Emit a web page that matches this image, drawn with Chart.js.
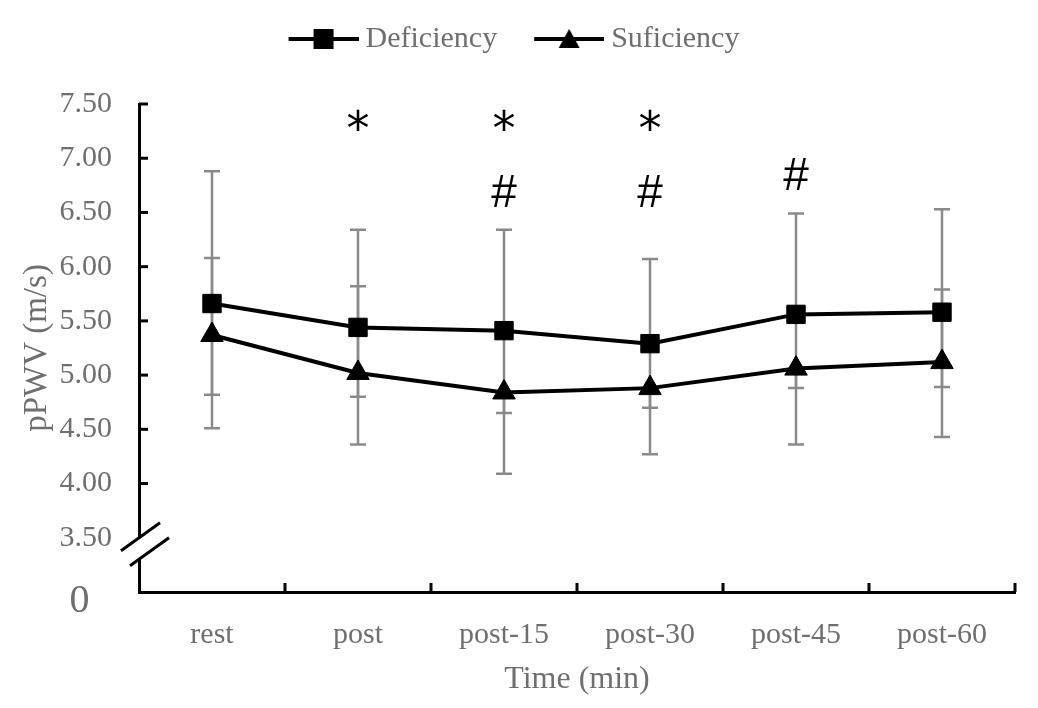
<!DOCTYPE html>
<html>
<head>
<meta charset="utf-8">
<script src="https://cdn.jsdelivr.net/npm/chart.js@4.4.0/dist/chart.umd.min.js"></script>
<style>
html,body{margin:0;padding:0;background:#fff;}
#wrap{width:1038px;height:708px;}
</style>
</head>
<body>
<div id="wrap"><canvas id="c" width="1038" height="708"></canvas></div>
<script>
// ---- data ----
const categories = ['rest', 'post', 'post-15', 'post-30', 'post-45', 'post-60'];
const deficiency = [5.66, 5.44, 5.41, 5.29, 5.56, 5.58];
const sufficiency = [5.37, 5.02, 4.84, 4.88, 5.06, 5.12];
const deficiencyHigh = [6.88, 6.34, 6.34, 6.07, 6.49, 6.53];
const deficiencyLow = [4.51, 4.36, 4.09, 4.27, 4.36, 4.43];
const sufficiencyHigh = [6.08, 5.82, null, null, null, 5.79];
const sufficiencyLow = [4.82, 4.80, 4.65, 4.70, 4.88, 4.89];
const yTickValues = [3.0, 3.5, 4.0, 4.5, 5.0, 5.5, 6.0, 6.5, 7.0, 7.5];
const starMarks = ['post', 'post-15', 'post-30'];
const hashMarks = ['post-15', 'post-30', 'post-45'];
const seriesNames = ['Deficiency', 'Suficiency'];

// ---- styles ----
const TEXT = '#6f6f6f';
const SERIF = '"Liberation Serif", "Times New Roman", serif';
const SANS = '"Liberation Sans", Arial, sans-serif';
const STAR_LEVEL = 7.35;
const HASH_LEVEL = {'post-15': 6.70, 'post-30': 6.70, 'post-45': 6.85};

function legendIcon(shape) {
  const c = document.createElement('canvas');
  c.width = 91; c.height = 30;
  const g = c.getContext('2d');
  g.strokeStyle = '#000'; g.lineWidth = 4;
  g.beginPath(); g.moveTo(21, 15); g.lineTo(91, 15); g.stroke();
  g.fillStyle = '#000';
  if (shape === 'rect') {
    g.fillRect(46, 5, 20, 20);
  } else {
    g.beginPath(); g.moveTo(56, 5); g.lineTo(66.5, 24); g.lineTo(45.5, 24); g.closePath(); g.fill();
  }
  return c;
}
const icons = [legendIcon('rect'), legendIcon('triangle')];

const errorBars = {
  id: 'errorBars',
  beforeDatasetsDraw(chart) {
    const {ctx, scales: {x, y}} = chart;
    ctx.save();
    ctx.strokeStyle = '#8a8a8a';
    ctx.lineWidth = 2.5;
    const sets = [[deficiencyHigh, deficiencyLow, deficiency], [sufficiencyHigh, sufficiencyLow, sufficiency]];
    const cap = 8;
    sets.forEach(([hi, lo, mid]) => {
      categories.forEach((c, i) => {
        const px = x.getPixelForValue(i);
        const top = y.getPixelForValue(hi[i] != null ? hi[i] : mid[i]);
        const bot = y.getPixelForValue(lo[i]);
        ctx.beginPath();
        ctx.moveTo(px, top); ctx.lineTo(px, bot);
        if (hi[i] != null) { ctx.moveTo(px - cap, top); ctx.lineTo(px + cap, top); }
        ctx.moveTo(px - cap, bot); ctx.lineTo(px + cap, bot);
        ctx.stroke();
      });
    });
    ctx.restore();
  }
};

const decor = {
  id: 'decor',
  afterDraw(chart) {
    const {ctx, scales: {x, y}, chartArea: a} = chart;
    ctx.save();
    ctx.strokeStyle = '#000';
    ctx.lineWidth = 3;
    // inner y ticks
    y.ticks.forEach(t => {
      if (t.value >= 4) {
        const py = y.getPixelForValue(t.value);
        ctx.beginPath(); ctx.moveTo(a.left, py); ctx.lineTo(a.left + 9, py); ctx.stroke();
      }
    });
    // inner x ticks at category boundaries
    for (let i = 1; i <= categories.length; i++) {
      const px = x.getPixelForValue(i - 0.5);
      ctx.beginPath(); ctx.moveTo(px, a.bottom); ctx.lineTo(px, a.bottom - 9); ctx.stroke();
    }
    // axis break
    const yb = y.getPixelForValue(3.5);
    const L = a.left;
    ctx.fillStyle = '#fff';
    ctx.beginPath();
    ctx.moveTo(L - 18, yb + 13); ctx.lineTo(L + 21, yb - 15);
    ctx.lineTo(L + 30, yb); ctx.lineTo(L - 9, yb + 28);
    ctx.closePath(); ctx.fill();
    ctx.beginPath();
    ctx.moveTo(L - 18, yb + 13); ctx.lineTo(L + 21, yb - 15);
    ctx.moveTo(L - 9, yb + 28); ctx.lineTo(L + 30, yb);
    ctx.stroke();
    // "0" label at the axis origin
    ctx.fillStyle = TEXT;
    ctx.font = '40px ' + SERIF;
    ctx.textAlign = 'center';
    ctx.textBaseline = 'middle';
    ctx.fillText('0', 79.5, a.bottom + 9);
    // significance marks
    ctx.fillStyle = '#000';
    ctx.textBaseline = 'alphabetic';
    function mark(txt, font, cat, level) {
      ctx.font = font;
      const m = ctx.measureText(txt);
      const px = x.getPixelForValue(categories.indexOf(cat));
      const cy = y.getPixelForValue(level);
      const base = cy + (m.actualBoundingBoxAscent - m.actualBoundingBoxDescent) / 2;
      ctx.fillText(txt, px, base);
    }
    starMarks.forEach(c => mark('*', '46px "DejaVu Sans"', c, STAR_LEVEL));
    hashMarks.forEach(c => mark('#', '46px ' + SANS, c, HASH_LEVEL[c]));
    ctx.restore();
  }
};

new Chart(document.getElementById('c'), {
  type: 'line',
  data: {
    labels: categories,
    datasets: [
      {
        label: seriesNames[0], data: deficiency,
        borderColor: '#000', backgroundColor: '#000', borderWidth: 4,
        pointStyle: 'rect', pointRadius: 13, pointBorderWidth: 1,
        pointBackgroundColor: '#000', pointBorderColor: '#000', tension: 0
      },
      {
        label: seriesNames[1], data: sufficiency,
        borderColor: '#000', backgroundColor: '#000', borderWidth: 4,
        pointStyle: 'triangle', pointRadius: 13, pointBorderWidth: 1,
        pointBackgroundColor: '#000', pointBorderColor: '#000', tension: 0
      }
    ]
  },
  options: {
    responsive: false,
    animation: false,
    devicePixelRatio: 1,
    layout: {padding: {top: 0, left: 0, right: 23, bottom: 0}},
    plugins: {
      tooltip: {enabled: false},
      title: {display: false},
      subtitle: {display: true, text: ' ', padding: 0, font: {size: 40, lineHeight: 1}},
      legend: {
        position: 'top', weight: 3000,
        labels: {
          usePointStyle: true, pointStyleWidth: 75, padding: 24,
          color: TEXT, font: {family: SERIF, size: 30},
          generateLabels(chart) {
            const items = Chart.defaults.plugins.legend.labels.generateLabels(chart);
            items.forEach((it, i) => { it.pointStyle = icons[i]; it.fontColor = TEXT; });
            return items;
          }
        }
      }
    },
    scales: {
      x: {
        type: 'category', offset: true,
        grid: {display: false, drawTicks: false},
        border: {display: true, color: '#000', width: 3},
        ticks: {color: TEXT, font: {family: SERIF, size: 30}, padding: 25, maxRotation: 0, autoSkip: false},
        title: {display: true, text: 'Time (min)', color: TEXT, font: {family: SERIF, size: 32}, padding: {top: 0, bottom: 9}},
        afterFit(s) { s.height = 116; }
      },
      y: {
        type: 'linear', min: 3, max: 7.5,
        afterBuildTicks(s) { s.ticks = yTickValues.map(v => ({value: v})); },
        grid: {display: false, drawTicks: false},
        border: {display: true, color: '#000', width: 3},
        ticks: {
          color: TEXT, font: {family: SERIF, size: 30}, padding: 27,
          callback: v => (v === 3 ? '' : Number(v).toFixed(2))
        },
        title: {display: true, text: 'pPWV (m/s)', color: TEXT, font: {family: SERIF, size: 33}, padding: {top: 18, bottom: 0}},
        afterFit(s) { s.width = 139; }
      }
    }
  },
  plugins: [errorBars, decor]
});
</script>
</body>
</html>
